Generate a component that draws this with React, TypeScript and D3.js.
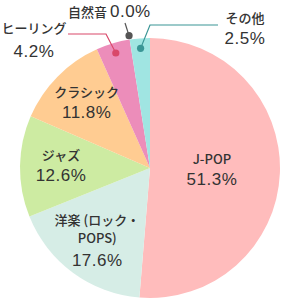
import * as d3 from "d3";
import React from "react";

const categories = ["J-POP", "洋楽 (ロック・POPS)", "ジャズ", "クラシック", "ヒーリング", "自然音", "その他"];
const nameLines = [["J-POP"], ["洋楽 (ロック・", "POPS)"], ["ジャズ"], ["クラシック"], ["ヒーリング"], ["自然音"], ["その他"]];
const values = [51.3, 17.6, 12.6, 11.8, 4.2, 0.0, 2.5];
const colors = ["#ffbcbc", "#d6ede6", "#cdeba2", "#ffcc92", "#ec8dba", "#8a8a8a", "#a0e5e2"];
const leaderColors = ["", "", "", "", "#d9486a", "#555555", "#3a9696"];

// layout only (not data)
const W = 300;
const H = 300;
const cx = 150;
const cy = 168;
const R = 130;
const inside = [
  { r: 62, dy: [-7, 14] },
  { r: 89, dy: [-15, 3, 26] },
  { r: 89, dy: [-7, 14] },
  { r: 89, dy: [-8, 13] },
];
// outside labels: dot radius, elbow, end of line, text position
const outside: any = {
  4: { dotR: 120, elbow: [106, 34], end: [68, 34], tx: 34, ty: [33, 57], anchor: "middle" },
  5: { dotR: 134, elbow: [125, 23], end: null, tx: 68, ty: [17], anchor: "start", inline: true },
  6: { dotR: 120, elbow: [150, 25], end: [218, 25], tx: 245, ty: [23, 44], anchor: "middle" },
};

const jpFont = "'Noto Sans CJK JP', sans-serif";
const numFont = "'Liberation Sans', Arial, sans-serif";

export default function App() {
  const pie = d3.pie<number>().sort(null).value((d) => d);
  const arcs = pie(values);
  const arc = d3.arc<d3.PieArcDatum<number>>().innerRadius(0).outerRadius(R);

  const pt = (a: d3.PieArcDatum<number>, r: number) => {
    const m = (a.startAngle + a.endAngle) / 2;
    return [cx + r * Math.sin(m), cy - r * Math.cos(m)];
  };

  return (
    <svg width={W} height={H} style={{ position: "absolute", left: 0, top: 0 }}>
      <g transform={`translate(${cx},${cy})`}>
        {arcs.map((a, i) =>
          a.value > 0 ? <path key={i} d={arc(a) || ""} fill={colors[i]} /> : null
        )}
      </g>
      {arcs.map((a, i) => {
        if (i > 3) return null;
        const [x, y] = pt(a, inside[i].r);
        const lines = nameLines[i];
        return (
          <g key={"in" + i} fill="#333" textAnchor="middle">
            {lines.map((l, k) => (
              <text key={k} x={x} y={y + inside[i].dy[k]} fontFamily={jpFont} fontSize={13} fontWeight={500}>
                {l}
              </text>
            ))}
            <text x={x} y={y + inside[i].dy[lines.length]} fontFamily={numFont} fontSize={17} letterSpacing={0.5}>
              {values[i].toFixed(1)}%
            </text>
          </g>
        );
      })}
      {arcs.map((a, i) => {
        const o = outside[i];
        if (!o) return null;
        const [dx, dy] = pt(a, o.dotR);
        const pts = [[dx, dy], o.elbow, ...(o.end ? [o.end] : [])];
        return (
          <g key={"out" + i}>
            <polyline points={pts.map((p) => p.join(",")).join(" ")} fill="none" stroke={leaderColors[i]} strokeWidth={1.2} />
            <circle cx={dx} cy={dy} r={3.6} fill={leaderColors[i]} />
            {o.inline ? (
              <text x={o.tx} y={o.ty[0]} fill="#333" textAnchor="start">
                <tspan fontFamily={jpFont} fontSize={13} fontWeight={500}>{nameLines[i][0]} </tspan>
                <tspan fontFamily={numFont} fontSize={17} letterSpacing={0.5}>{values[i].toFixed(1)}%</tspan>
              </text>
            ) : (
              <g fill="#333" textAnchor={o.anchor}>
                <text x={o.tx} y={o.ty[0]} fontFamily={jpFont} fontSize={13} fontWeight={500}>
                  {nameLines[i][0]}
                </text>
                <text x={o.tx} y={o.ty[1]} fontFamily={numFont} fontSize={17} letterSpacing={0.5}>
                  {values[i].toFixed(1)}%
                </text>
              </g>
            )}
          </g>
        );
      })}
    </svg>
  );
}
